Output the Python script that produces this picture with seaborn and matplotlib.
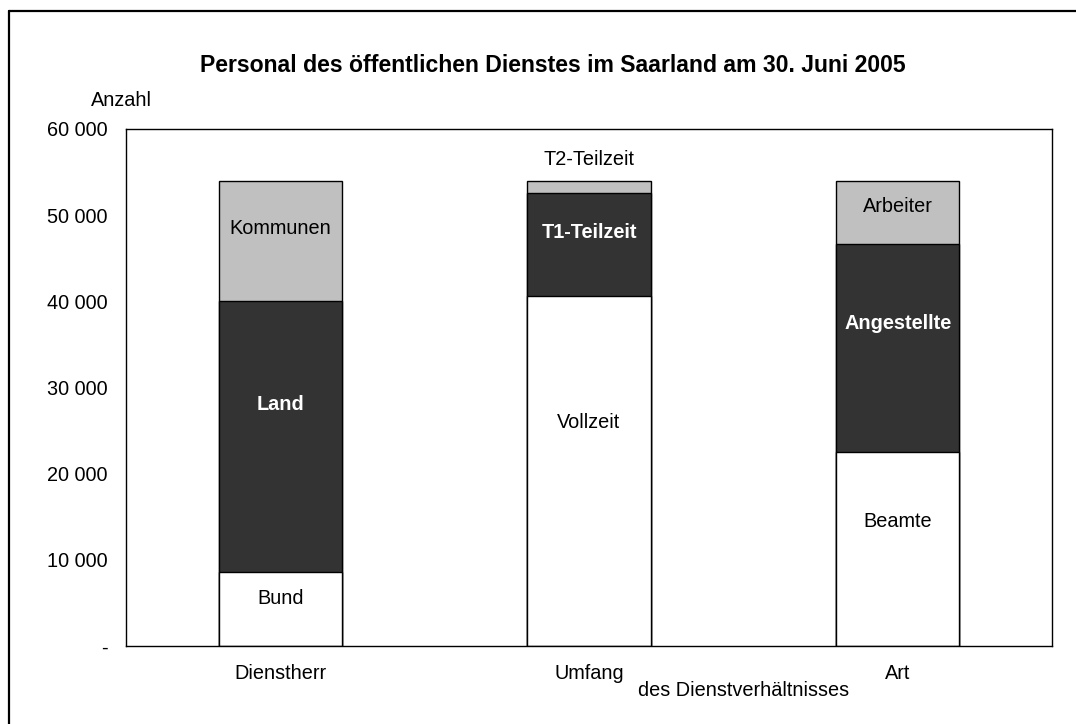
import numpy as np
import pandas as pd
import seaborn as sns
import matplotlib.pyplot as plt
from matplotlib.lines import Line2D

sns.set_style("white")
plt.rcParams['font.family'] = ['Liberation Sans', 'DejaVu Sans']
plt.rcParams['text.color'] = 'black'
plt.rcParams['xtick.color'] = 'black'
plt.rcParams['ytick.color'] = 'black'

# Daten
categories = ["Dienstherr", "Umfang", "Art"]
lower = [8600, 40600, 22500]
middle = [31400, 12000, 24100]
upper = [14000, 1400, 7400]
lower_labels = ["Bund", "Vollzeit", "Beamte"]
middle_labels = ["Land", "T1-Teilzeit", "Angestellte"]
upper_labels = ["Kommunen", "T2-Teilzeit", "Arbeiter"]
y_ticks = [0, 10000, 20000, 30000, 40000, 50000, 60000]

df = pd.DataFrame({"cat": categories, "lower": lower, "middle": middle, "upper": upper})
df["c1"] = df["lower"]
df["c2"] = df["lower"] + df["middle"]
df["c3"] = df["c2"] + df["upper"]

FS = 14.3

fig = plt.figure(figsize=(10.76, 7.24), dpi=100)
ax = fig.add_axes([126 / 1076, 1 - 646 / 724, (1052 - 126) / 1076, (646 - 129) / 724])

common = dict(x="cat", order=categories, width=0.4, edgecolor="black", linewidth=1.0,
              errorbar=None, ax=ax)
sns.barplot(data=df, y="c3", color="#c0c0c0", saturation=1, **common)
sns.barplot(data=df, y="c2", color="#333333", saturation=1, **common)
sns.barplot(data=df, y="c1", color="#ffffff", saturation=1, **common)

# Segmentbeschriftungen
for i in range(len(categories)):
    ax.text(i, df["c1"][i] * 0.64, lower_labels[i], ha="center", va="center", fontsize=FS, color="black")
    ax.text(i, df["c1"][i] + df["middle"][i] * 0.62, middle_labels[i], ha="center", va="center",
            fontsize=FS, color="white", fontweight="bold")
    if df["upper"][i] > 3000:
        ax.text(i, df["c2"][i] + df["upper"][i] * 0.6, upper_labels[i], ha="center", va="center",
                fontsize=FS, color="black")
    else:
        ax.text(i, df["c3"][i] + 2500, upper_labels[i], ha="center", va="center", fontsize=FS, color="black")

ax.set_xlim(-0.5, 2.5)
ax.set_ylim(0, 60000)
ax.set_yticks(y_ticks)
ax.set_yticklabels(["-" if v == 0 else f"{v:,}".replace(",", " ") for v in y_ticks])
ax.set_xticks(range(len(categories)))
ax.set_xticklabels(categories)
ax.set_xticks([-0.5, 0.5, 1.5, 2.5], minor=True)
ax.tick_params(axis="x", which="major", length=0, pad=13, labelsize=FS, labelcolor="black")
ax.tick_params(axis="x", which="minor", length=6, width=1, direction="out", color="black")
ax.tick_params(axis="y", length=5, width=1, direction="out", color="black", pad=8, labelsize=FS,
               labelcolor="black")
ax.set_xlabel("")
ax.set_ylabel("")
for s in ax.spines.values():
    s.set_visible(True)
    s.set_color("black")
    s.set_linewidth(1.0)

ax.text(1.5, -0.087, "des Dienstverhältnisses", transform=ax.get_xaxis_transform(),
        ha="center", va="center", fontsize=FS)
fig.text(121 / 1076, 1 - 100 / 724, "Anzahl", ha="center", va="center", fontsize=FS)
fig.text(553 / 1076, 1 - 65 / 724, "Personal des öffentlichen Dienstes im Saarland am 30. Juni 2005",
         ha="center", va="center", fontsize=16.6, fontweight="bold")

# Rahmen (nur oben und links sichtbar)
fig.add_artist(Line2D([9 / 1076, 1], [1 - 11 / 724, 1 - 11 / 724], transform=fig.transFigure,
                      color="black", linewidth=1.6))
fig.add_artist(Line2D([9 / 1076, 9 / 1076], [0, 1 - 11 / 724], transform=fig.transFigure,
                      color="black", linewidth=1.6))

fig.savefig("out.png", dpi=100, facecolor="white")
